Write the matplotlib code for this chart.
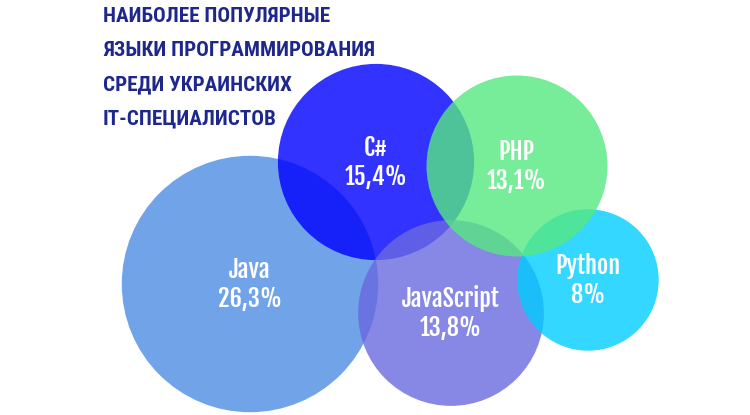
import numpy as np
import matplotlib
matplotlib.use('Agg')
import matplotlib.pyplot as plt
from matplotlib.patches import Circle

# ----------------------------------
# DATA
# ----------------------------------
languages = ['Java', 'C#', 'JavaScript', 'Python', 'PHP']
shares = [26.3, 15.4, 13.8, 8.0, 13.1]
share_labels = ['26,3%', '15,4%', '13,8%', '8%', '13,1%']

title_lines = ['НАИБОЛЕЕ ПОПУЛЯРНЫЕ',
               'ЯЗЫКИ ПРОГРАММИРОВАНИЯ',
               'СРЕДИ УКРАИНСКИХ',
               'IT-СПЕЦИАЛИСТОВ']

# layout of the bubbles (pixel space) and colours
centers = [(250, 284), (376, 162), (451, 313), (588, 280), (517, 166)]
colors = ['#4c8ce2', '#0000ff', '#6969e0', '#00cdff', '#55e880']
scale = 25.0  # radius = scale * sqrt(share)

label_font = ['Fjalla One', 'DejaVu Sans']
title_font = ['Roboto Condensed', 'DejaVu Sans']

fig = plt.figure(figsize=(7.5, 4.15), dpi=100)
ax = fig.add_axes([0, 0, 1, 1])
ax.set_xlim(0, 750)
ax.set_ylim(415, 0)
ax.set_aspect('equal')
ax.axis('off')

for i, (lang, v) in enumerate(zip(languages, shares)):
    r = scale * np.sqrt(v)
    ax.add_patch(Circle(centers[i], r, facecolor=colors[i], alpha=0.8,
                        edgecolor='none', zorder=i + 1))

for i, lang in enumerate(languages):
    cx, cy = centers[i]
    ax.text(cx, cy - 6, lang, ha='center', va='baseline', color='white',
            fontsize=17.5, family=label_font, zorder=10)
    ax.text(cx, cy + 22.5, share_labels[i], ha='center', va='baseline',
            color='white', fontsize=17.5, family=label_font, zorder=10)

for k, line in enumerate(title_lines):
    ax.text(103, 22 + k * 34, line, ha='left', va='baseline', color='#1e288c',
            fontsize=15.2, fontweight='bold', family=title_font, zorder=10)

plt.savefig('out.png', dpi=100)
